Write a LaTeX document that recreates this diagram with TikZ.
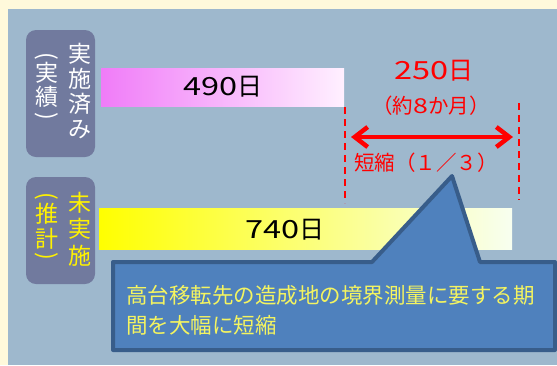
\documentclass[tikz,border=0pt]{standalone}
\usepackage{fontspec}
\setmainfont{Noto Sans CJK JP}
\usetikzlibrary{arrows.meta}
\definecolor{cream}{HTML}{FFF9DB}
\definecolor{panel}{HTML}{9EB8CD}
\definecolor{labbg}{HTML}{717A9E}
\definecolor{callfill}{HTML}{4F81BD}
\definecolor{calldraw}{HTML}{385D8A}
\definecolor{pinkL}{HTML}{F07CF8}
\definecolor{pinkR}{HTML}{FFF0FF}
\definecolor{yelR}{HTML}{F8FFF0}
\definecolor{calltext}{HTML}{F4F460}
\newcommand{\widedig}[1]{\scalebox{1.3}[1]{#1}}
\begin{document}
\begin{tikzpicture}[x=1pt,y=-1pt,
  labbox/.style={fill=labbg, rounded corners=10pt},
  vch/.style={font=\fontsize{23}{23}\selectfont, inner sep=0pt, anchor=center},
  vpar/.style={font=\fontsize{23}{23}\selectfont, inner sep=0pt, anchor=center, rotate=-90},
  bartext/.style={font=\fontsize{25}{25}\selectfont, inner sep=0pt, text=black},
  redtext/.style={text=red, inner sep=0pt},
  reddash/.style={red, line width=1.8pt, dash pattern=on 7pt off 5pt},
  twoway/.style={red, line width=4.5pt, {Straight Barb[length=13pt,width=20pt]}-{Straight Barb[length=13pt,width=20pt]}},
  callout/.style={fill=callfill, draw=calldraw, line width=4pt, line join=round}
]
\useasboundingbox (0,0) rectangle (557,365);
\fill[cream] (0,0) rectangle (557,365);
\fill[panel] (8,9) rectangle (557,365);

% label boxes
\path[labbox] (26,30) rectangle (95,157);
\path[labbox] (26,177) rectangle (95,284);

% label 1
\node[vch,text=white] (a1) at (80,54) {実};
\node[vch,text=white] (a2) at (80,79) {施};
\node[vch,text=white] (a3) at (80,104) {済};
\node[vch,text=white] (a4) at (80,130) {み};
\node[vpar,text=white] (b0) at (47,56) {(};
\node[vch,text=white] (b1) at (47,73) {実};
\node[vch,text=white] (b2) at (47,97) {績};
\node[vpar,text=white] (b3) at (47,116) {)};

% label 2
\node[vch,text=yellow] (c1) at (80,203) {未};
\node[vch,text=yellow] (c2) at (80,229) {実};
\node[vch,text=yellow] (c3) at (80,256) {施};
\node[vpar,text=yellow] (d0) at (47,196) {(};
\node[vch,text=yellow] (d1) at (47,214) {推};
\node[vch,text=yellow] (d2) at (47,239) {計};
\node[vpar,text=yellow] (d3) at (47,256) {)};

% bars
\shade[left color=pinkL, right color=pinkR] (101,68) rectangle (344,106);
\node[bartext] (t490) at (223,87) {\widedig{490}日};
\shade[left color=yellow, right color=yelR] (99,208) rectangle (512,249);
\node[bartext] (t740) at (285,230) {\widedig{740}日};

% dashed guides
\coordinate (l1) at (345,107);
\coordinate (l2) at (345,203);
\coordinate (r1) at (519,103);
\coordinate (r2) at (519,200);
\draw[reddash] (l1) -- (l2);
\draw[reddash] (r1) -- (r2);

% arrow
\coordinate (ar1) at (351,137);
\coordinate (ar2) at (513,137);
\draw[twoway] (ar1) -- (ar2);

\node[redtext, font=\fontsize{25}{25}\selectfont] (t250) at (434,71) {\widedig{250}日};
\node[redtext, font=\fontsize{20.5}{20.5}\selectfont] (t8m) at (431,106) {（約\widedig{8}か月）};
\node[redtext, font=\fontsize{20.5}{20.5}\selectfont] (tsh) at (426,163) {短縮（１／３）};

% callout
\path[callout] (113,262) -- (372,262) -- (452,176) -- (480,262) -- (555,262) -- (555,350) -- (113,350) -- cycle;
\node[text=calltext, font=\fontsize{21.5}{30}\selectfont, align=left, anchor=west, inner sep=0pt] (ct) at (126,310)
 {高台移転先の造成地の境界測量に要する期\\間を大幅に短縮};
\end{tikzpicture}
\end{document}
